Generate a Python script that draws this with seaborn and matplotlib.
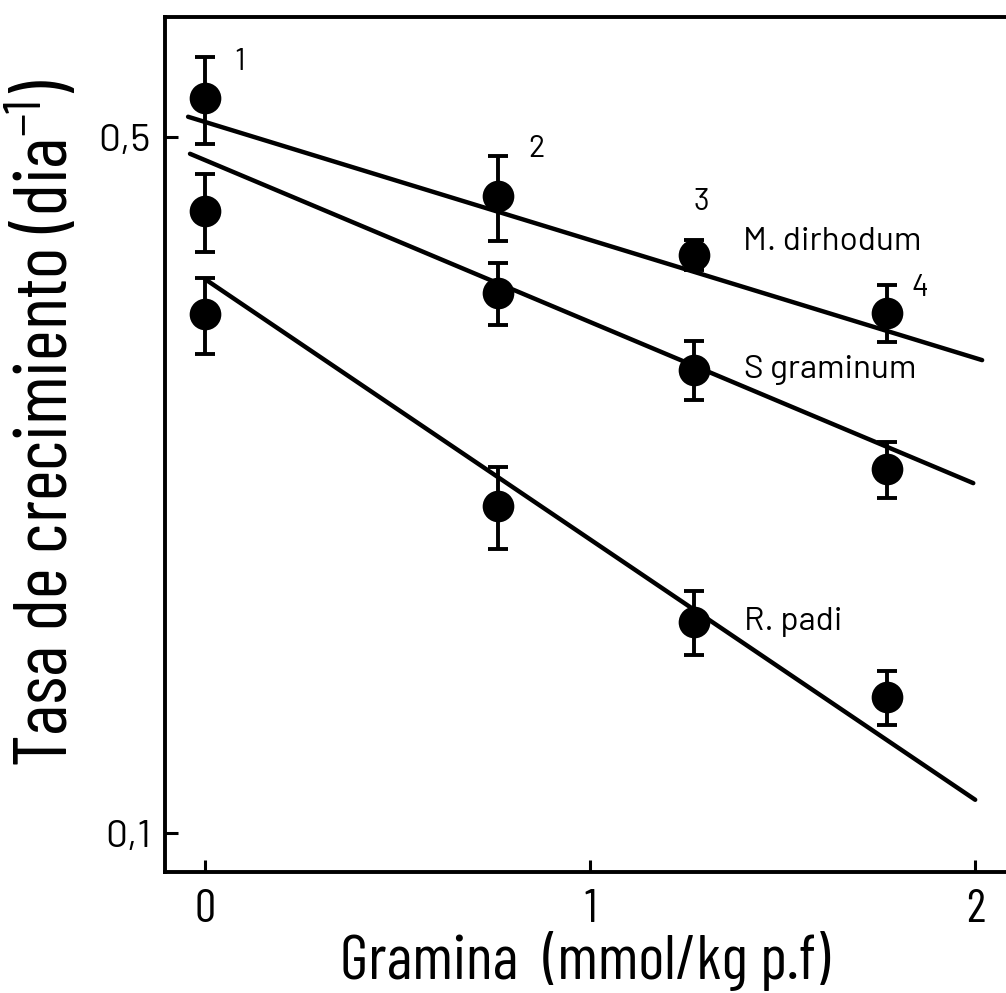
import matplotlib
matplotlib.use("Agg")
import matplotlib.pyplot as plt
import seaborn as sns
import pandas as pd
import numpy as np

# ---- data ----
gramina = [0.0, 0.76, 1.27, 1.77]
species = ["M. dirhodum", "S graminum", "R. padi"]
m_dirhodum = [0.547, 0.436, 0.381, 0.333]
m_dirhodum_err = [0.055, 0.043, 0.013, 0.022]
s_graminum = [0.421, 0.349, 0.292, 0.232]
s_graminum_err = [0.038, 0.025, 0.020, 0.015]
r_padi = [0.332, 0.213, 0.163, 0.137]
r_padi_err = [0.029, 0.020, 0.012, 0.0085]
# fitted regression lines (start/end)
fit_x_start = [-0.044, -0.039, 0.0]
fit_x_end = [2.018, 1.995, 2.0]
fit_y_start = [0.524, 0.481, 0.360]
fit_y_end = [0.2985, 0.2246, 0.108]
point_numbers = ["1", "2", "3", "4"]
y_ticks = [0.1, 0.5]
y_ticklabels = ["0,1", "0,5"]
x_ticks = [0, 1, 2]
x_ticklabels = ["0", "1", "2"]

sns.set_theme(style="ticks")
COND = ["Barlow Condensed", "DejaVu Sans"]
REG = ["Barlow", "DejaVu Sans"]
plt.rcParams["font.family"] = REG
plt.rcParams["mathtext.fontset"] = "custom"
plt.rcParams["mathtext.rm"] = "Barlow Condensed"
plt.rcParams["mathtext.it"] = "Barlow Condensed"
plt.rcParams["mathtext.bf"] = "Barlow Condensed"

fig = plt.figure(figsize=(10.06, 9.93), dpi=100)
ax = fig.add_axes([0.164, 0.1219, 0.836, 0.861])

values = [m_dirhodum, s_graminum, r_padi]
errs = [m_dirhodum_err, s_graminum_err, r_padi_err]

df = pd.DataFrame({
    "x": gramina * 3,
    "y": m_dirhodum + s_graminum + r_padi,
    "sp": sum([[s] * len(gramina) for s in species], []),
})
fit_df = pd.DataFrame({
    "x": sum([[a, b] for a, b in zip(fit_x_start, fit_x_end)], []),
    "y": sum([[a, b] for a, b in zip(fit_y_start, fit_y_end)], []),
    "sp": sum([[s, s] for s in species], []),
})

sns.lineplot(data=fit_df, x="x", y="y", units="sp", estimator=None,
             color="black", lw=3.2, ax=ax, solid_capstyle="round", legend=False)
for v, e in zip(values, errs):
    ax.errorbar(gramina, v, yerr=e, fmt="none", ecolor="black",
                elinewidth=2.8, capsize=7, capthick=2.8, zorder=3)
sns.scatterplot(data=df, x="x", y="y", color="black", s=520, marker="o",
                edgecolor="black", linewidth=0, ax=ax, zorder=4, legend=False)

ax.set_yscale("log")
ax.set_xlim(-0.104, 2.08)
ax.set_ylim(0.0914, 0.660)
ax.set_yticks(y_ticks)
ax.set_yticklabels(y_ticklabels)
ax.yaxis.set_minor_locator(matplotlib.ticker.NullLocator())
ax.set_xticks(x_ticks)
ax.set_xticklabels(x_ticklabels)

ax.tick_params(axis="both", direction="in", length=9, width=2.2, colors="black")
ax.tick_params(axis="x", labelsize=34, pad=12)
ax.tick_params(axis="y", labelsize=28, pad=10)
for lab in ax.get_xticklabels():
    lab.set_family(COND)

for s in ["left", "bottom", "top"]:
    ax.spines[s].set_linewidth(2.8)
    ax.spines[s].set_color("black")
ax.spines["right"].set_visible(False)

ax.set_xlabel("Gramina  (mmol/kg p.f)", fontsize=45, labelpad=0,
              color="black", family=COND)
ax.set_ylabel(r"Tasa de crecimiento (dia$^{\mathregular{-1}}$)", fontsize=54,
              color="black", family=COND)
ax.yaxis.set_label_coords(-0.098, 0.525)

# point numbers above M. dirhodum
offsets = [(35, 36), (39, 47), (7, 53), (33, 25)]
for xv, yv, lab, off in zip(gramina, m_dirhodum, point_numbers, offsets):
    ax.annotate(lab, (xv, yv), xytext=off, textcoords="offset pixels",
                ha="center", va="center", fontsize=22, color="black")

# species labels
label_pos = [(1.397, 0.3925), (1.40, 0.2917), (1.40, 0.1628)]
for sp, (lx, ly) in zip(species, label_pos):
    ax.text(lx, ly, sp, fontsize=24, ha="left", va="center", color="black")

fig.savefig("out.png", dpi=100, facecolor="white")
